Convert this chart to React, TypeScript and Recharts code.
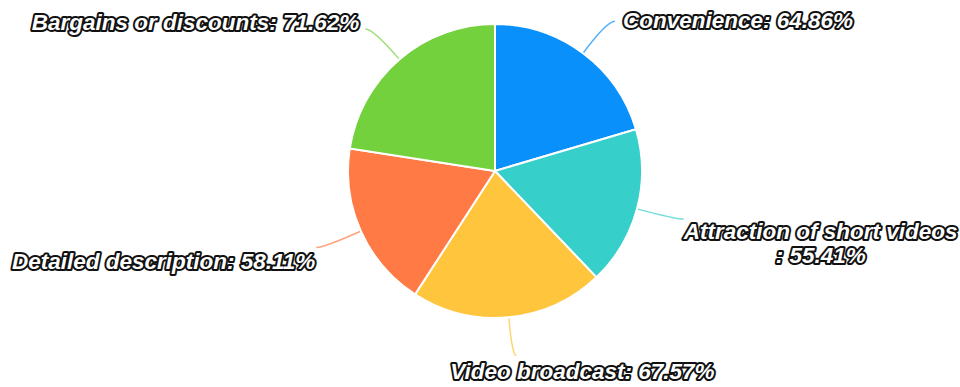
import { Cell, Pie, PieChart } from "recharts";

const categories = [
  "Convenience",
  "Attraction of short videos",
  "Video broadcast",
  "Detailed description",
  "Bargains or discounts",
];
const shares = [64.86, 55.41, 67.57, 58.11, 71.62];
const colors = ["#0a90fb", "#36cfc9", "#ffc53d", "#ff7a45", "#73d13d"];

const data = categories.map((name, i) => ({ name, value: shares[i] }));

const RADIAN = Math.PI / 180;

const textStyle = {
  fontFamily: "'Liberation Sans', Arial, sans-serif",
  fontSize: 22.5,
  fontWeight: 700,
  fontStyle: "italic",
  fill: "#ffffff",
  stroke: "#111111",
  strokeWidth: 4,
  strokeLinejoin: "round" as const,
  paintOrder: "stroke",
};

function renderLabel(props: any) {
  const { cx, cy, midAngle, outerRadius, name, value, index } = props;
  const cos = Math.cos(-midAngle * RADIAN);
  const sin = Math.sin(-midAngle * RADIAN);
  const r0 = outerRadius + 1;
  const r1 = outerRadius + 40;
  const sx = cx + r0 * cos;
  const sy = cy + r0 * sin;
  const mx = cx + r1 * cos;
  const my = cy + r1 * sin;
  const bottom = Math.abs(cos) < 0.3;
  const side = cos >= 0 ? 1 : -1;
  const upper = sin < 0;
  const ex = bottom ? mx + 4 : mx + side * 8;
  const ey = bottom ? my - 2 : my;
  const color = colors[index % colors.length];

  const valueText = `${Number(value).toFixed(2)}%`;
  const lines = name.length > 22 ? [name, `: ${valueText}`] : [`${name}: ${valueText}`];

  let tx: number;
  let anchor: "start" | "end" | "middle";
  let ty: number;
  if (bottom) {
    tx = ex + 66;
    anchor = "middle";
    ty = ey + 16;
  } else if (side > 0) {
    tx = lines.length > 1 ? ex + 137 : ex + 8;
    anchor = lines.length > 1 ? "middle" : "start";
    ty = upper ? ey - 1 : ey + 12;
  } else {
    tx = upper ? ex - 6 : ex - 1;
    anchor = "end";
    ty = upper ? ey - 7 : ey + 14;
  }

  return (
    <g>
      <path
        d={`M${sx},${sy} Q${mx},${my} ${ex},${ey}`}
        fill="none"
        stroke={color}
        strokeOpacity={0.7}
        strokeWidth={1.5}
      />
      <text x={tx} y={ty} textAnchor={anchor} dominantBaseline="central" style={textStyle}>
        {lines.map((line, i) => (
          <tspan key={i} x={tx} dy={i === 0 ? 0 : 24}>
            {line}
          </tspan>
        ))}
      </text>
    </g>
  );
}

export default function App() {
  return (
    <div style={{ position: "absolute", left: 0, top: 0, width: 960, height: 387, background: "#ffffff" }}>
      <PieChart width={960} height={387} margin={{ top: 0, right: 0, bottom: 0, left: 0 }}>
        <Pie
          data={data}
          dataKey="value"
          nameKey="name"
          cx={495}
          cy={171}
          outerRadius={147}
          startAngle={90}
          endAngle={-270}
          stroke="#ffffff"
          strokeWidth={2}
          labelLine={false}
          label={renderLabel}
          isAnimationActive={false}
        >
          {data.map((entry, i) => (
            <Cell key={entry.name} fill={colors[i]} />
          ))}
        </Pie>
      </PieChart>
    </div>
  );
}
